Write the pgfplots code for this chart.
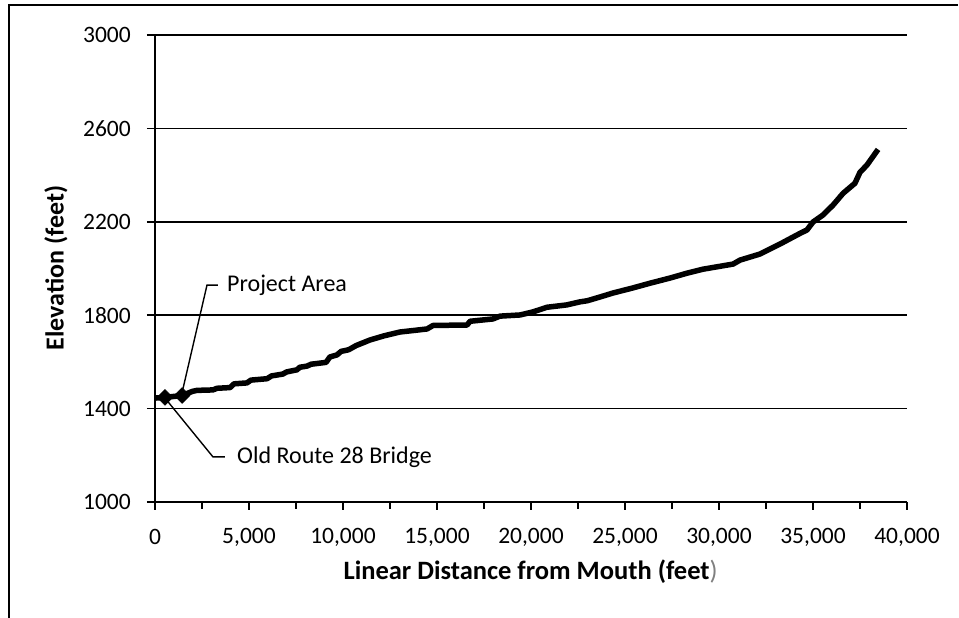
\documentclass[border=0pt]{standalone}
\usepackage{fontspec}
\setmainfont{Carlito}
\usepackage{pgfplots}
\pgfplotsset{compat=1.18}
\begin{document}
\begin{tikzpicture}[font=\fontsize{23.5bp}{28bp}\selectfont]
\path[use as bounding box] (0,0) rectangle (959bp,618bp);
\draw[line width=2bp] (9bp,0) -- (9bp,613bp) -- (958bp,613bp);
\begin{axis}[
  at={(155bp,116bp)}, anchor=south west,
  scale only axis, width=752bp, height=467bp,
  xmin=0, xmax=40000, ymin=1000, ymax=3000,
  axis lines*=left,
  axis line style={line width=1.8bp},
  xtick={0,5000,...,40000},
  minor xtick={2500,7500,...,37500},
  ytick={1000,1400,...,3000},
  tick align=outside,
  major tick length=8bp, minor tick length=7bp,
  every tick/.style={black, line width=1.6bp},
  ymajorgrids,
  major grid style={black, line width=1.5bp},
  /pgf/number format/assume math mode=true,
  xticklabel style={/pgf/number format/1000 sep={,}, anchor=center, inner sep=0pt, yshift=-27bp},
  yticklabel style={/pgf/number format/1000 sep={}, anchor=east, inner sep=0pt, xshift=-16bp},
  scaled x ticks=false,
  xlabel={\textbf{Linear Distance from Mouth (feet}\textcolor{gray}{)}},
  ylabel={\textbf{Elevation (feet)}},
  xlabel style={at={([yshift=-70bp]axis description cs:0.4995,0)}, anchor=center, inner sep=0pt, font=\fontsize{26.5bp}{30bp}\selectfont},
  ylabel style={at={([xshift=-99bp]axis description cs:0,0.501)}, anchor=center, rotate=0, inner sep=0pt, font=\fontsize{26bp}{30bp}\selectfont},
  clip=false,
]
\addplot[black, line width=5.5bp, line join=round] coordinates {
(0,1445) (530,1448) (1440,1456) (2000,1474) (2230,1478) (3080,1480) (3300,1487) (3990,1490) (4200,1506)
(4890,1510) (5100,1522) (5960,1528) (6200,1540) (6800,1548) (7000,1557) (7550,1566) (7700,1577) (8090,1582) (8300,1590) (9100,1598) (9300,1621)
(9680,1630) (9900,1645) (10300,1652) (10700,1670) (11440,1694) (12200,1712) (13030,1728)
(14470,1741) (14790,1756) (16600,1758) (16760,1774) (17980,1784) (18350,1796)
(19420,1801) (20100,1814) (20850,1834) (21900,1844) (22600,1857) (23000,1862)
(23670,1878) (24360,1895) (25430,1917) (26330,1937) (27390,1959) (28300,1980)
(29150,1997) (30750,2019) (31120,2036) (32180,2062) (33250,2105) (34300,2150)
(34680,2165) (35000,2199) (35530,2229) (36060,2271) (36600,2322) (37230,2365)
(37500,2412) (37870,2443) (38460,2510)
};
\addplot[only marks, mark=square*, mark size=5.6bp, mark options={rotate=45, fill=black, draw=black}] coordinates {
(530,1448) (1440,1456)
};
\draw[line width=1.4bp] (axis cs:1436,1467) -- (axis cs:2766,1929) -- (axis cs:3351,1929);
\node[anchor=west, inner sep=0pt, font=\fontsize{24bp}{28bp}\selectfont] at (axis cs:3830,1929) {Project Area};
\draw[line width=1.4bp] (axis cs:532,1445) -- (axis cs:3085,1193) -- (axis cs:3723,1193);
\node[anchor=west, inner sep=0pt, font=\fontsize{24bp}{28bp}\selectfont] at (axis cs:4362,1193) {Old Route 28 Bridge};
\end{axis}
\end{tikzpicture}
\end{document}
